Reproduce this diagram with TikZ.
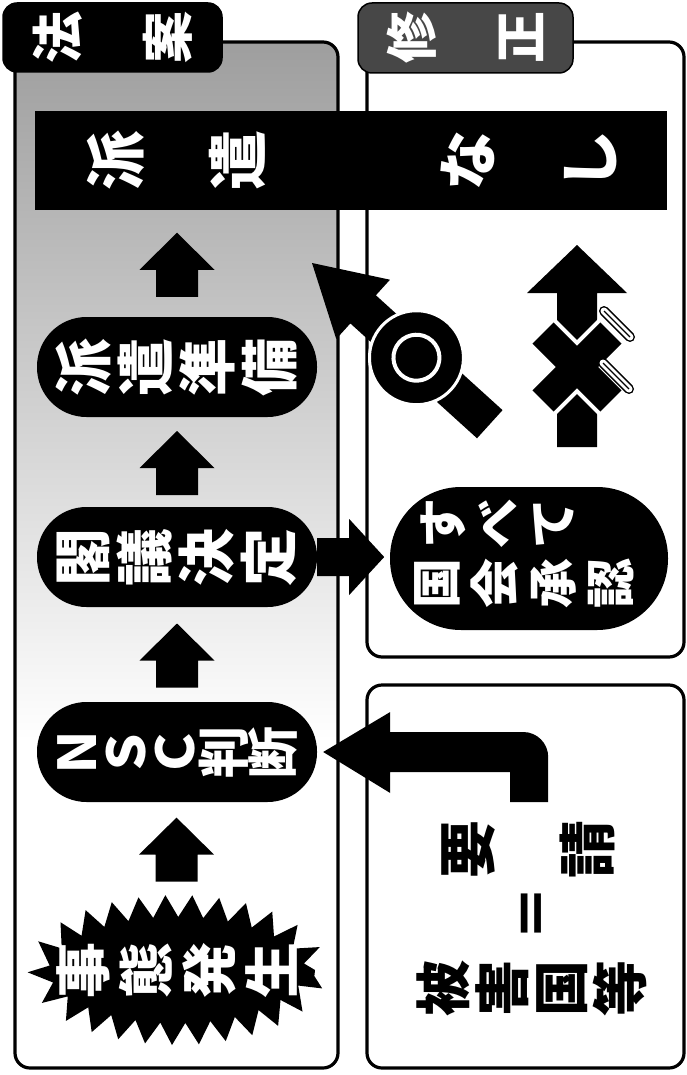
\documentclass[tikz,border=0pt]{standalone}
\usepackage{fontspec}
\newfontfamily\jp{Noto Sans CJK JP}
\newcommand\vfnt[2]{\jp\bfseries\fontsize{#1}{#2}\selectfont}
\lineskiplimit=-200pt
\usetikzlibrary{calc,decorations.pathmorphing}
\tikzset{
  panel/.style={draw=black, line width=3.2pt, rounded corners=15pt},
  tabbox/.style={rounded corners=14pt, inner sep=0pt, draw=black, line width=1.5pt},
  pill/.style={fill=black, inner sep=0pt, minimum width=280pt, minimum height=100pt, rounded corners=49.5pt},
  vt/.style 2 args={rotate=90, align=center, inner sep=0pt, text=white, font={\vfnt{#1}{#2}}},
  uparr/.pic={\fill (0,31) -- (37.5,-6) -- (21,-6) -- (21,-33) -- (-21,-33) -- (-21,-6) -- (-37.5,-6) -- cycle;},
  rarr/.pic={\fill (0,19) -- (32,19) -- (32,38) -- (67,0) -- (32,-38) -- (32,-19) -- (0,-19) -- cycle;},
}
\begin{document}
\begin{tikzpicture}[x=1pt,y=1pt]
\useasboundingbox (0,0) rectangle (687,-1075);
\fill[white] (0,0) rectangle (687,-1075);

% left panel stipple
\begin{scope}
  \clip[rounded corners=15pt] (15,-42) rectangle (338,-1068);
  \shade[top color=black!38, middle color=black!24, bottom color=white] (15,-42) rectangle (338,-740);
\end{scope}
\draw[panel] (15,-42) rectangle (338,-1068);
\draw[panel] (367,-42) rectangle (684,-657);
\draw[panel] (367,-685) rectangle (684,-1068);

% tabs
\node[tabbox, fill=black, minimum width=219pt, minimum height=69pt] (tabL) at (112.5,-37.5) {};
\node[vt={52}{110}] (tabLt) at (tabL) {法\\案};
\node[tabbox, fill=black!72, minimum width=215pt, minimum height=70pt] (tabR) at (465.5,-38) {};
\node[vt={52}{109}] (tabRt) at (tabR) {修\\正};

% top bar
\node[fill=black, inner sep=0pt, minimum width=632pt, minimum height=99pt] (bar) at (351,-161) {};
\node[vt={60}{122}] (barA) at (176,-161) {派\\遣};
\node[vt={60}{122}] (barB) at (529,-161) {な\\し};

% pills
\node[pill] (p1) at (177,-367) {};
\node[vt={58}{62}] (p1t) at (p1) {派\\遣\\準\\備};
\node[pill] (p2) at (177,-557) {};
\node[vt={58}{62}] (p2t) at (p2) {閣\\議\\決\\定};
\node[pill] (p3) at (177,-752) {};
\node[vt={52}{49}] (p3t) at (p3) {Ｎ\\Ｓ\\Ｃ\\判\\断};

% starburst
\coordinate (sb) at (177,-970);
\coordinate (sbtop) at (176,-895);
\fill[decorate, decoration={zigzag, segment length=26pt, amplitude=11pt}] (sb) ellipse [x radius=138pt, y radius=64pt];
\node[vt={56}{63}] (sbt) at (sb) {事\\態\\発\\生};

% up arrows
\pic at ($(bar.south -| p1.north)!0.5!(p1.north)$) {uparr};
\pic at ($(p1.south)!0.5!(p2.north)$) {uparr};
\pic at ($(p2.south)!0.5!(p3.north)$) {uparr};
\pic at ($(p3.south)!0.5!(sbtop)$) {uparr};

% right pill
\node[fill=black, inner sep=0pt, minimum width=278pt, minimum height=143pt, rounded corners=71pt] (p4) at (529,-558.5) {};
\node[vt={50}{55}] (p4a) at (497,-523) {す\\べ\\て};
\node[vt={50}{58}] (p4b) at (524.5,-583) {国\\会\\承\\認};
\pic at (p2.east) {rarr};

% bent arrow from request to NSC
\begin{scope}[shift={(p3.east)}]
  \fill (6,0) -- (73,40) -- (73,20) -- (206,20) arc[start angle=90, end angle=0, radius=25pt]
    -- (231,-50) -- (193,-50) -- (193,-20) -- (73,-20) -- (73,-41) -- cycle;
\end{scope}

% circle arrow
\coordinate (otip) at (312,-263);
\begin{scope}[shift={(otip)}, rotate=137.8]
  \fill (0,0) -- (-69,40) -- (-69,19) -- (-240,19) -- (-240,-19) -- (-69,-19) -- (-69,-40) -- cycle;
  \fill[draw=white, line width=3pt] (-141,0) circle[radius=47pt];
  \draw[white, line width=4pt] (-141,0) circle[radius=23pt];
\end{scope}

% cross arrow
\begin{scope}[shift={(577,-245)}]
  \fill (0,0) -- (50,-48) -- (20,-48) -- (20,-202) -- (-20,-202) -- (-20,-48) -- (-50,-48) -- cycle;
  \begin{scope}[shift={(0,-122)}]
    \draw[white, line width=8pt, rotate=45] (-48,-15) rectangle (48,15);
    \draw[white, line width=8pt, rotate=-45] (-48,-15) rectangle (48,15);
    \fill[rotate=45] (-48,-15) rectangle (48,15);
    \fill[rotate=-45] (-48,-15) rectangle (48,15);
  \end{scope}
\end{scope}
\foreach \x/\y in {617/-324, 616/-376} {
  \draw[line width=10pt, line cap=round] (\x-13,\y+13) -- (\x+13,\y-13);
  \draw[white, line width=7pt, line cap=round] (\x-13,\y+13) -- (\x+13,\y-13);
  \draw[line width=1.3pt] (\x-13,\y+13) -- (\x+13,\y-13);
}

% request text
\node[vt={58}{120}, text=black] (yo) at (528,-849) {要\\請};
\node[vt={56}{60}, text=black] (eq) at (537,-913) {＝};
\node[vt={56}{59}, text=black] (hi) at (532,-988) {被\\害\\国\\等};
\end{tikzpicture}
\end{document}
